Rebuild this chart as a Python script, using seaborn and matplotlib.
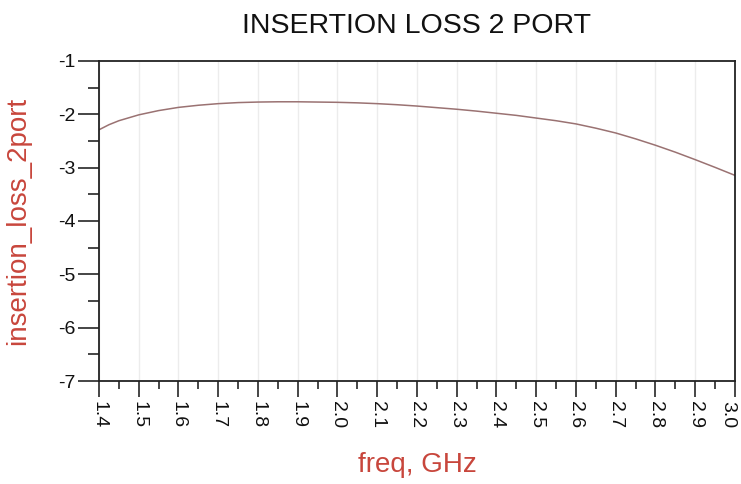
"""
Insertion loss of the 2-port network vs frequency.
"""

import numpy as np
import pandas as pd
import matplotlib
matplotlib.use("Agg")
import matplotlib.pyplot as plt
import matplotlib.transforms as mtransforms
import seaborn as sns
from matplotlib.ticker import MultipleLocator

# Data
FREQ_GHZ = [1.40, 1.425, 1.45, 1.50, 1.55, 1.60, 1.65, 1.70, 1.75, 1.80, 1.85, 1.90,
            1.95, 2.00, 2.05, 2.10, 2.15, 2.20, 2.25, 2.30, 2.35, 2.40, 2.45,
            2.50, 2.55, 2.60, 2.65, 2.70, 2.75, 2.80, 2.85, 2.90, 2.95, 3.00]
LOSS_DB = [-2.29, -2.195, -2.12, -2.01, -1.93, -1.87, -1.83, -1.80, -1.78, -1.77, -1.765, -1.765,
           -1.77, -1.775, -1.785, -1.80, -1.82, -1.845, -1.875, -1.905, -1.94, -1.98, -2.02,
           -2.07, -2.12, -2.18, -2.26, -2.35, -2.46, -2.58, -2.71, -2.85, -2.995, -3.145]
X_TICKS = [1.4, 1.5, 1.6, 1.7, 1.8, 1.9, 2.0, 2.1, 2.2, 2.3, 2.4, 2.5, 2.6,
           2.7, 2.8, 2.9, 3.0]
Y_TICKS = [-7, -6, -5, -4, -3, -2, -1]

RED = "#c8463c"
LINE = "#9a7272"

sns.set_style("ticks")
plt.rcParams["font.family"] = ["Liberation Sans", "DejaVu Sans"]

df = pd.DataFrame({"freq": FREQ_GHZ, "loss": LOSS_DB})

fig = plt.figure(figsize=(7.41, 4.84), dpi=100)
ax = fig.add_axes([0.1336, 0.2128, 0.9919 - 0.1336, 0.874 - 0.2128])

sns.lineplot(data=df, x="freq", y="loss", ax=ax, color=LINE, linewidth=1.1)

ax.set_xlim(1.4, 3.0)
ax.set_ylim(-7, -1)
ax.set_xticks(X_TICKS)
ax.set_xticklabels([f"{t:.1f}" for t in X_TICKS], rotation=-90)
ax.set_yticks(Y_TICKS)
ax.set_yticklabels([str(t) for t in Y_TICKS])
ax.xaxis.set_minor_locator(MultipleLocator(0.05))
ax.yaxis.set_minor_locator(MultipleLocator(0.5))

ax.tick_params(axis="x", which="major", length=11.5, width=1.2, labelsize=14, pad=3,
               labelcolor="#111111")
ax.tick_params(axis="x", which="minor", length=6, width=1.2)
ax.tick_params(axis="y", which="major", length=15, width=1.2, labelsize=14, pad=2,
               labelcolor="#111111")
ax.tick_params(axis="y", which="minor", length=8, width=1.2)

# the last x label sits on the figure edge, nudge it inside
last = ax.get_xticklabels()[-1]
last.set_transform(last.get_transform() +
                   mtransforms.ScaledTranslation(-5 / 72, 0, fig.dpi_scale_trans))

ax.grid(axis="x", which="major", color="#ececec", linewidth=1.0)
for s in ax.spines.values():
    s.set_linewidth(1.3)
    s.set_color("#222222")

ax.set_title("INSERTION LOSS 2 PORT", fontsize=20.5, pad=0, y=1.0875, color="#111111")
ax.set_xlabel("freq, GHz", color=RED, fontsize=20)
ax.set_ylabel("insertion_loss_2port", color=RED, fontsize=20)
ax.xaxis.set_label_coords(0.5, -0.222)
ax.yaxis.set_label_coords(-0.106, 0.5)

fig.savefig("out.png", dpi=100)
